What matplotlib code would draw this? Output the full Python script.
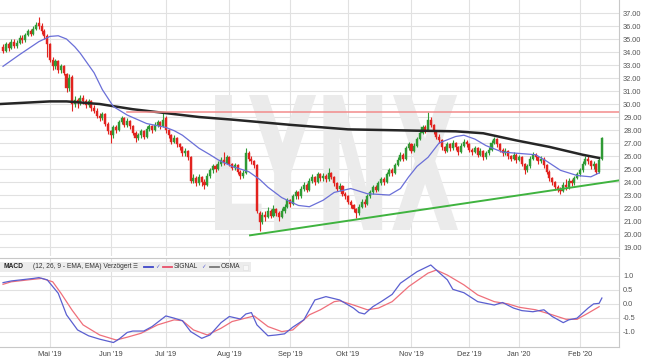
import numpy as np
import pandas as pd
import matplotlib
matplotlib.use("Agg")
import matplotlib.pyplot as plt
from matplotlib.textpath import TextPath
from matplotlib.font_manager import FontProperties
from matplotlib.patches import PathPatch, Rectangle
from matplotlib.transforms import Affine2D, IdentityTransform

plt.rcParams['font.family'] = ['Liberation Sans', 'DejaVu Sans']

# trading calendar (Xetra holidays removed)
holidays = ['2019-04-19', '2019-04-22', '2019-05-01', '2019-12-24', '2019-12-25',
            '2019-12-26', '2019-12-31', '2020-01-01']
days = pd.bdate_range('2019-04-04', '2020-02-13')
days = days[~days.isin(pd.to_datetime(holidays))]

month_labels = ["Mai '19", "Jun '19", "Jul '19", "Aug '19", "Sep '19",
                "Okt '19", "Nov '19", "Dez '19", "Jan '20", "Feb '20"]

# daily candles
opens = [
    34.4, 34.1, 34.6, 34.3, 34.8, 34.5, 34.7, 35.1, 34.9, 35.3,
    35.6, 35.4, 35.8, 36.2, 36.0, 35.6, 35.2, 34.6, 33.4, 32.9,
    33.3, 32.6, 32.9, 32.3, 31.2, 32.1, 30.0, 30.3, 30.1, 30.5,
    30.2, 29.9, 30.2, 29.7, 29.5, 29.1, 28.9, 29.2, 28.5, 27.9,
    27.6, 28.2, 28.0, 28.6, 28.9, 28.4, 28.7, 28.3, 27.8, 27.4,
    27.6, 27.9, 27.5, 28.1, 28.3, 28.0, 28.4, 28.6, 28.3, 28.9,
    28.0, 27.6, 27.1, 27.4, 26.9, 26.7, 26.2, 26.4, 25.9, 24.1,
    24.3, 23.9, 24.4, 24.0, 23.8, 24.5, 24.9, 25.2, 25.0, 25.4,
    25.7, 25.5, 25.9, 25.4, 25.1, 25.3, 24.8, 24.5, 24.7, 26.2,
    25.8, 25.6, 25.3, 21.6, 20.9, 21.5, 21.3, 21.8, 21.4, 21.9,
    21.6, 21.3, 21.8, 22.1, 22.6, 22.3, 22.9, 23.2, 22.9, 23.5,
    23.8, 23.4, 24.1, 24.4, 24.0, 24.6, 24.3, 24.5, 24.2, 24.7,
    24.4, 23.9, 23.5, 23.7, 23.1, 22.9, 22.5, 22.2, 21.9, 21.6,
    22.1, 22.5, 22.3, 22.9, 23.2, 23.6, 23.4, 23.9, 24.2, 24.0,
    24.6, 24.9, 24.7, 25.3, 25.7, 26.1, 25.8, 26.6, 26.9, 26.4,
    26.8, 27.3, 27.8, 28.2, 28.0, 28.8, 28.4, 27.9, 27.5, 27.2,
    26.7, 26.4, 26.9, 26.6, 27.0, 26.7, 26.3, 26.8, 27.1, 26.9,
    26.5, 26.3, 26.6, 26.1, 26.4, 25.9, 26.2, 26.5, 27.0, 27.3,
    26.9, 26.5, 26.2, 26.4, 26.0, 25.8, 26.1, 25.7, 25.9, 25.4,
    24.9, 25.2, 25.8, 26.1, 25.9, 25.6, 25.8, 25.3, 24.8, 24.3,
    24.0, 23.6, 23.4, 23.3, 23.8, 23.6, 24.1, 23.9, 24.3, 24.6,
    24.9, 25.4, 25.8, 25.6, 25.2, 25.4, 24.8, 25.8]
closes = [
    34.1, 34.6, 34.3, 34.8, 34.5, 34.7, 35.1, 34.9, 35.3, 35.6,
    35.4, 35.8, 36.1, 36.0, 35.6, 35.2, 34.6, 33.4, 32.9, 33.3,
    32.6, 32.9, 32.4, 31.2, 32.0, 30.0, 30.3, 30.1, 30.5, 30.2,
    29.9, 30.2, 29.7, 29.5, 29.1, 28.9, 29.2, 28.5, 27.9, 27.6,
    28.2, 28.0, 28.6, 28.9, 28.4, 28.7, 28.3, 27.8, 27.4, 27.6,
    27.9, 27.5, 28.1, 28.3, 28.0, 28.4, 28.6, 28.3, 28.8, 28.0,
    27.6, 27.1, 27.4, 26.9, 26.7, 26.2, 26.4, 25.9, 24.1, 24.3,
    23.9, 24.4, 24.0, 23.8, 24.5, 24.9, 25.2, 25.0, 25.4, 25.7,
    25.5, 25.9, 25.4, 25.1, 25.3, 24.8, 24.5, 24.7, 26.2, 25.8,
    25.6, 25.3, 21.8, 20.9, 21.5, 21.3, 21.8, 21.4, 21.9, 21.6,
    21.3, 21.8, 22.1, 22.6, 22.3, 22.9, 23.2, 22.9, 23.5, 23.8,
    23.4, 24.1, 24.4, 24.0, 24.6, 24.3, 24.5, 24.2, 24.7, 24.4,
    23.9, 23.5, 23.7, 23.1, 22.9, 22.5, 22.2, 21.9, 21.6, 22.1,
    22.5, 22.3, 22.9, 23.2, 23.6, 23.4, 23.9, 24.2, 24.0, 24.6,
    24.9, 24.7, 25.3, 25.7, 26.1, 25.8, 26.6, 26.9, 26.4, 26.8,
    27.3, 27.8, 28.2, 28.0, 28.8, 28.4, 27.9, 27.5, 27.2, 26.7,
    26.4, 26.9, 26.6, 27.0, 26.7, 26.3, 26.8, 27.1, 26.9, 26.5,
    26.3, 26.6, 26.1, 26.4, 25.9, 26.2, 26.5, 27.0, 27.3, 26.9,
    26.5, 26.2, 26.4, 26.0, 25.8, 26.1, 25.7, 25.9, 25.4, 24.9,
    25.2, 25.8, 26.1, 25.9, 25.6, 25.8, 25.3, 24.8, 24.3, 24.0,
    23.6, 23.4, 23.3, 23.8, 23.6, 24.1, 23.9, 24.3, 24.6, 24.9,
    25.4, 25.8, 25.6, 25.2, 25.4, 24.8, 25.7, 27.4]
highs = [
    34.6, 34.8, 34.8, 35.0, 35.0, 34.9, 35.3, 35.3, 35.5, 35.8,
    35.8, 36.0, 36.3, 36.7, 36.2, 35.8, 35.4, 34.7, 33.6, 33.5,
    33.4, 33.1, 33.0, 32.4, 32.3, 32.2, 30.6, 30.5, 30.7, 30.7,
    30.4, 30.4, 30.3, 29.9, 29.7, 29.3, 29.4, 29.3, 28.6, 28.0,
    28.4, 28.4, 28.8, 29.1, 29.0, 28.9, 28.8, 28.4, 27.9, 27.8,
    28.1, 28.0, 28.3, 28.5, 28.4, 28.6, 28.8, 28.7, 29.4, 29.1,
    28.1, 27.7, 27.6, 27.5, 27.0, 26.8, 26.6, 26.5, 26.0, 24.6,
    24.5, 24.6, 24.5, 24.2, 24.7, 25.1, 25.4, 25.4, 25.6, 25.9,
    26.3, 26.1, 26.0, 25.5, 25.5, 25.4, 24.9, 24.9, 26.6, 26.4,
    26.0, 25.7, 25.4, 21.8, 21.7, 21.8, 22.1, 21.9, 22.2, 22.0,
    21.8, 22.0, 22.3, 22.8, 22.7, 23.1, 23.4, 23.3, 23.7, 24.0,
    23.9, 24.3, 24.6, 24.5, 24.8, 24.7, 24.7, 24.6, 25.1, 24.8,
    24.5, 24.0, 23.9, 23.8, 23.2, 23.0, 22.6, 22.3, 22.0, 22.3,
    22.7, 22.7, 23.1, 23.4, 23.8, 23.8, 24.1, 24.4, 24.4, 24.8,
    25.1, 25.1, 25.5, 25.9, 26.3, 26.2, 26.8, 27.1, 27.0, 27.0,
    27.5, 28.0, 28.4, 28.4, 29.35, 29.0, 28.5, 28.0, 27.7, 27.3,
    26.8, 27.1, 27.0, 27.2, 27.1, 26.8, 27.0, 27.3, 27.2, 27.0,
    26.6, 26.8, 26.7, 26.6, 26.5, 26.4, 26.7, 27.2, 27.5, 27.4,
    27.0, 26.6, 26.6, 26.5, 26.1, 26.3, 26.2, 26.1, 26.0, 25.5,
    25.4, 26.0, 26.3, 26.2, 26.0, 26.0, 25.9, 25.4, 24.9, 24.4,
    24.1, 23.8, 23.6, 24.0, 24.2, 24.3, 24.2, 24.5, 24.8, 25.1,
    25.6, 26.0, 26.0, 25.7, 25.6, 25.5, 25.9, 27.5]
lows = [
    33.9, 34.0, 34.1, 34.2, 34.3, 34.3, 34.6, 34.7, 34.8, 35.2,
    35.2, 35.3, 35.7, 35.8, 35.4, 35.0, 33.6, 33.2, 32.6, 32.7,
    32.4, 32.4, 32.2, 30.9, 31.0, 29.5, 29.8, 29.7, 29.9, 30.0,
    29.7, 29.8, 29.5, 29.3, 28.9, 28.7, 28.8, 28.3, 27.7, 27.0,
    27.4, 27.8, 27.9, 28.5, 28.2, 28.2, 28.1, 27.6, 27.1, 27.2,
    27.4, 27.3, 27.4, 27.9, 27.8, 27.9, 28.2, 28.1, 28.2, 27.8,
    27.4, 26.9, 27.0, 26.7, 26.5, 26.0, 26.0, 25.7, 23.9, 23.9,
    23.7, 23.8, 23.7, 23.5, 23.7, 24.3, 24.7, 24.8, 24.9, 25.2,
    25.3, 25.4, 25.2, 24.9, 24.9, 24.6, 24.2, 24.3, 24.6, 25.6,
    25.4, 25.1, 21.6, 20.2, 20.8, 21.0, 21.2, 21.2, 21.3, 21.4,
    21.0, 21.2, 21.6, 22.0, 22.1, 22.2, 22.7, 22.7, 22.8, 23.3,
    23.2, 23.3, 23.9, 23.8, 23.9, 24.1, 24.1, 24.0, 24.1, 24.2,
    23.7, 23.3, 23.3, 22.9, 22.7, 22.3, 22.0, 21.7, 21.2, 21.5,
    22.0, 22.1, 22.2, 22.8, 23.1, 23.2, 23.3, 23.8, 23.8, 23.9,
    24.5, 24.5, 24.6, 25.2, 25.6, 25.6, 25.7, 26.5, 26.2, 26.3,
    26.7, 27.2, 27.7, 27.8, 27.9, 28.2, 27.7, 27.3, 27.0, 26.5,
    26.2, 26.3, 26.4, 26.5, 26.5, 26.1, 26.2, 26.7, 26.7, 26.3,
    26.1, 26.2, 25.9, 26.0, 25.7, 25.8, 26.1, 26.4, 26.9, 26.7,
    26.3, 26.0, 26.1, 25.8, 25.6, 25.7, 25.5, 25.6, 25.2, 24.6,
    24.8, 25.1, 25.7, 25.7, 25.4, 25.5, 25.1, 24.6, 24.1, 23.8,
    23.4, 23.2, 23.1, 23.2, 23.4, 23.5, 23.7, 23.8, 24.2, 24.5,
    24.8, 25.3, 25.4, 25.0, 25.0, 24.6, 24.7, 25.7]

# moving averages (trading-day index, value)
ema_day = [0, 6, 13, 17, 20, 23, 26, 28, 31, 33, 36, 40, 45, 52, 59, 62, 65, 68,
           71, 75, 78, 83, 86, 89, 93, 96, 101, 104, 107, 111, 116, 120, 126, 132,
           140, 144, 147, 150, 154, 158, 164, 167, 171, 175, 181, 187, 193, 197,
           202, 208, 213, 216]
ema_val = [32.9, 33.8, 34.8, 35.2, 35.25, 35.0, 34.4, 33.9, 33.0, 32.4, 31.1, 29.8,
           29.15, 28.5, 28.2, 27.95, 27.6, 27.1, 26.6, 26.1, 25.7, 25.2, 25.0, 24.8,
           24.2, 23.6, 22.8, 22.5, 22.2, 22.1, 22.6, 23.2, 23.5, 23.1, 23.0, 23.5,
           24.4, 25.2, 25.9, 27.0, 27.5, 27.6, 27.3, 26.8, 26.3, 26.2, 26.1, 25.6,
           24.9, 24.5, 24.4, 24.7]
sma_day = [-1, 17, 23, 35, 47, 55, 71, 83, 104, 125, 150, 164, 174, 186, 198, 210, 216]
sma_val = [30.0, 30.2, 30.2, 30.0, 29.6, 29.4, 29.0, 28.8, 28.4, 28.05, 27.95, 27.9,
           27.75, 27.2, 26.7, 26.1, 25.85]

resist_day = [45, 224]
resist_val = [29.35, 29.35]
trend_day = [89.5, 224]
trend_val = [19.9, 24.15]

# MACD panel
macd_day = [0, 3, 11, 13, 16, 20, 23, 27, 31, 35, 40, 42, 45, 47, 51, 54, 59, 62,
            65, 68, 72, 75, 79, 82, 86, 88, 90, 92, 96, 99, 102, 105, 109, 113,
            117, 122, 127, 129, 131, 134, 137, 141, 144, 150, 155, 157, 161, 163,
            167, 172, 175, 178, 181, 185, 188, 192, 196, 199, 203, 205, 208, 212,
            214, 216, 217]
macd_val = [0.75, 0.81, 0.9, 0.93, 0.85, 0.37, -0.4, -0.94, -1.15, -1.27, -1.39,
            -1.27, -1.03, -0.98, -0.98, -0.82, -0.44, -0.52, -0.61, -1.0, -1.24,
            -1.12, -0.68, -0.46, -0.55, -0.37, -0.32, -0.76, -1.15, -1.12, -1.08,
            -0.84, -0.58, 0.13, 0.25, 0.13, -0.16, -0.32, -0.37, -0.11, 0.07, 0.33,
            0.73, 1.14, 1.38, 1.2, 0.85, 0.51, 0.39, 0.07, 0.01, -0.05, 0.04, -0.16,
            -0.25, -0.29, -0.22, -0.46, -0.68, -0.58, -0.52, -0.16, -0.01, 0.01, 0.2]
signal_day = [0, 3, 11, 14, 18, 21, 25, 29, 35, 41, 45, 50, 56, 62, 65, 69, 74, 79,
              83, 91, 96, 101, 105, 111, 115, 120, 122, 127, 132, 136, 141, 147,
              154, 157, 161, 167, 172, 178, 183, 187, 193, 199, 204, 208, 212, 216]
signal_val = [0.69, 0.78, 0.87, 0.9, 0.78, 0.37, -0.23, -0.76, -1.12, -1.3, -1.2,
              -1.06, -0.76, -0.58, -0.61, -0.94, -1.12, -0.88, -0.64, -0.44, -0.82,
              -1.0, -0.94, -0.4, -0.22, 0.07, 0.1, -0.05, -0.22, -0.16, 0.07, 0.61,
              1.09, 1.2, 1.02, 0.67, 0.31, 0.07, -0.01, -0.13, -0.22, -0.4, -0.56,
              -0.56, -0.34, -0.11]

price_ticks = list(range(19, 38))
macd_ticks = [-1.0, -0.5, 0.0, 0.5, 1.0]

GREEN = '#2f9a35'
RED = '#e2231f'
GRID = '#e1e1e1'
FRAME = '#c8c8c8'

W, H = 645, 363
fig = plt.figure(figsize=(W / 100, H / 100), dpi=100)
ax = fig.add_axes([0, 1 - 256 / H, 619 / W, 256 / H])
ax2 = fig.add_axes([0, 1 - 347 / H, 619 / W, 89 / H])

x = np.arange(len(days))
o = np.array(opens)
c = np.array(closes)
col = np.where(c >= o, GREEN, RED)

# month gridlines
pos = pd.Series(x, index=days)
month_start = pos.groupby(days.to_period('M')).first().iloc[1:]
for a in (ax, ax2):
    for m in month_start.values:
        a.axvline(m, color=GRID, lw=0.8, zorder=0)

for p in price_ticks:
    ax.axhline(p, color=GRID, lw=0.8, zorder=0)
for p in macd_ticks:
    ax2.axhline(p, color=GRID, lw=0.8, zorder=0)

# LYNX watermark
tp = TextPath((0, 0), "LYNX", size=1, prop=FontProperties(family='DejaVu Sans', weight='bold'))
ext = tp.get_extents()
bx0, bx1, by0, by1 = 215, 458, H - 230, H - 95
tr = Affine2D().translate(-ext.x0, -ext.y0).scale((bx1 - bx0) / ext.width,
                                                   (by1 - by0) / ext.height).translate(bx0, by0)
wm = PathPatch(tr.transform_path(tp), facecolor='#ebebeb', edgecolor='none',
               transform=IdentityTransform(), zorder=0.5, clip_on=False)
ax.add_artist(wm)

# candles
ax.vlines(x, lows, highs, colors=col, lw=0.8, zorder=2)
body = np.maximum(np.abs(c - o), 0.06)
ax.bar(x, body, bottom=np.minimum(o, c), width=0.75, color=col, edgecolor=col,
       lw=0.3, zorder=3)

ax.plot(sma_day, sma_val, color='#262626', lw=1.8, zorder=4)
ax.plot(ema_day, ema_val, color='#6a6fd8', lw=0.9, zorder=4)
ax.plot(resist_day, resist_val, color='#f28b8b', lw=1.1, zorder=4)
ax.plot(trend_day, trend_val, color='#3fb33f', lw=1.4, zorder=4)

xlim = (-1.1, 223.2)
ax.set_xlim(*xlim)
ax.set_ylim(18.31, 38.0)
ax.yaxis.tick_right()
ax.set_yticks(price_ticks)
ax.set_yticklabels([f"{p:.2f}" for p in price_ticks])
ax.set_xticks([])
ax.tick_params(axis='y', length=0, pad=3, labelsize=5.3, labelcolor='#555555')
for s in ('top', 'left', 'bottom'):
    ax.spines[s].set_visible(False)
ax.spines['right'].set_color(FRAME)
ax.spines['right'].set_linewidth(0.8)

# MACD
ax2.plot(signal_day, signal_val, color='#ef6f7a', lw=0.9, zorder=3)
ax2.plot(macd_day, macd_val, color='#5a5fd0', lw=0.9, zorder=4)
ax2.set_xlim(*xlim)
ax2.set_ylim(-1.55, 1.63)
ax2.yaxis.tick_right()
ax2.set_yticks(macd_ticks)
ax2.set_yticklabels([f"{p:.1f}" for p in macd_ticks])
ax2.set_xticks(month_start.values)
ax2.set_xticklabels(month_labels)
ax2.tick_params(axis='y', length=0, pad=3, labelsize=5.3, labelcolor='#555555')
ax2.tick_params(axis='x', length=0, pad=3, labelsize=5.3, labelcolor='#444444')
ax2.spines['left'].set_visible(False)
for s in ('top', 'right', 'bottom'):
    ax2.spines[s].set_color(FRAME)
    ax2.spines[s].set_linewidth(0.8)

# MACD header strip
def fx(px):
    return px / W

def fy(py):
    return 1 - py / H

fig.patches.append(Rectangle((0, fy(272)), fx(251), 10 / H, transform=fig.transFigure,
                             facecolor='#ececec', edgecolor='none', zorder=5))
ty = fy(267)
fs = 4.8
fig.text(fx(3), ty, "MACD", fontsize=fs, fontweight='bold', color='#222222', va='center', zorder=6)
fig.text(fx(33), ty, "(12, 26, 9 - EMA, EMA) Verzögert", fontsize=fs, color='#333333',
         va='center', zorder=6)
fig.text(fx(133), ty, "\u2630", fontsize=4, color='#555555', va='center', zorder=6,
         family=['DejaVu Sans'])
fig.lines.append(plt.Line2D([fx(144), fx(153)], [ty, ty], transform=fig.transFigure,
                            color='#3f46c8', lw=1.3, zorder=6))
fig.text(fx(155.5), ty, "\u2713", fontsize=4, color='#5a5fd0', va='center', zorder=6,
         family=['DejaVu Sans'])
fig.lines.append(plt.Line2D([fx(163), fx(172)], [ty, ty], transform=fig.transFigure,
                            color='#e8506a', lw=1.3, zorder=6))
fig.text(fx(173.5), ty, "SIGNAL", fontsize=fs, color='#333333', va='center', zorder=6)
fig.text(fx(201.5), ty, "\u2713", fontsize=4, color='#5a5fd0', va='center', zorder=6,
         family=['DejaVu Sans'])
fig.lines.append(plt.Line2D([fx(210), fx(219)], [ty, ty], transform=fig.transFigure,
                            color='#777777', lw=1.3, zorder=6))
fig.text(fx(221), ty, "OSMA", fontsize=fs, color='#333333', va='center', zorder=6)
fig.patches.append(Rectangle((fx(243), fy(270)), fx(5), 5 / H, transform=fig.transFigure,
                             facecolor='#f8f8f8', edgecolor='#dddddd', lw=0.4, zorder=6))

fig.savefig("out.png", dpi=100)
